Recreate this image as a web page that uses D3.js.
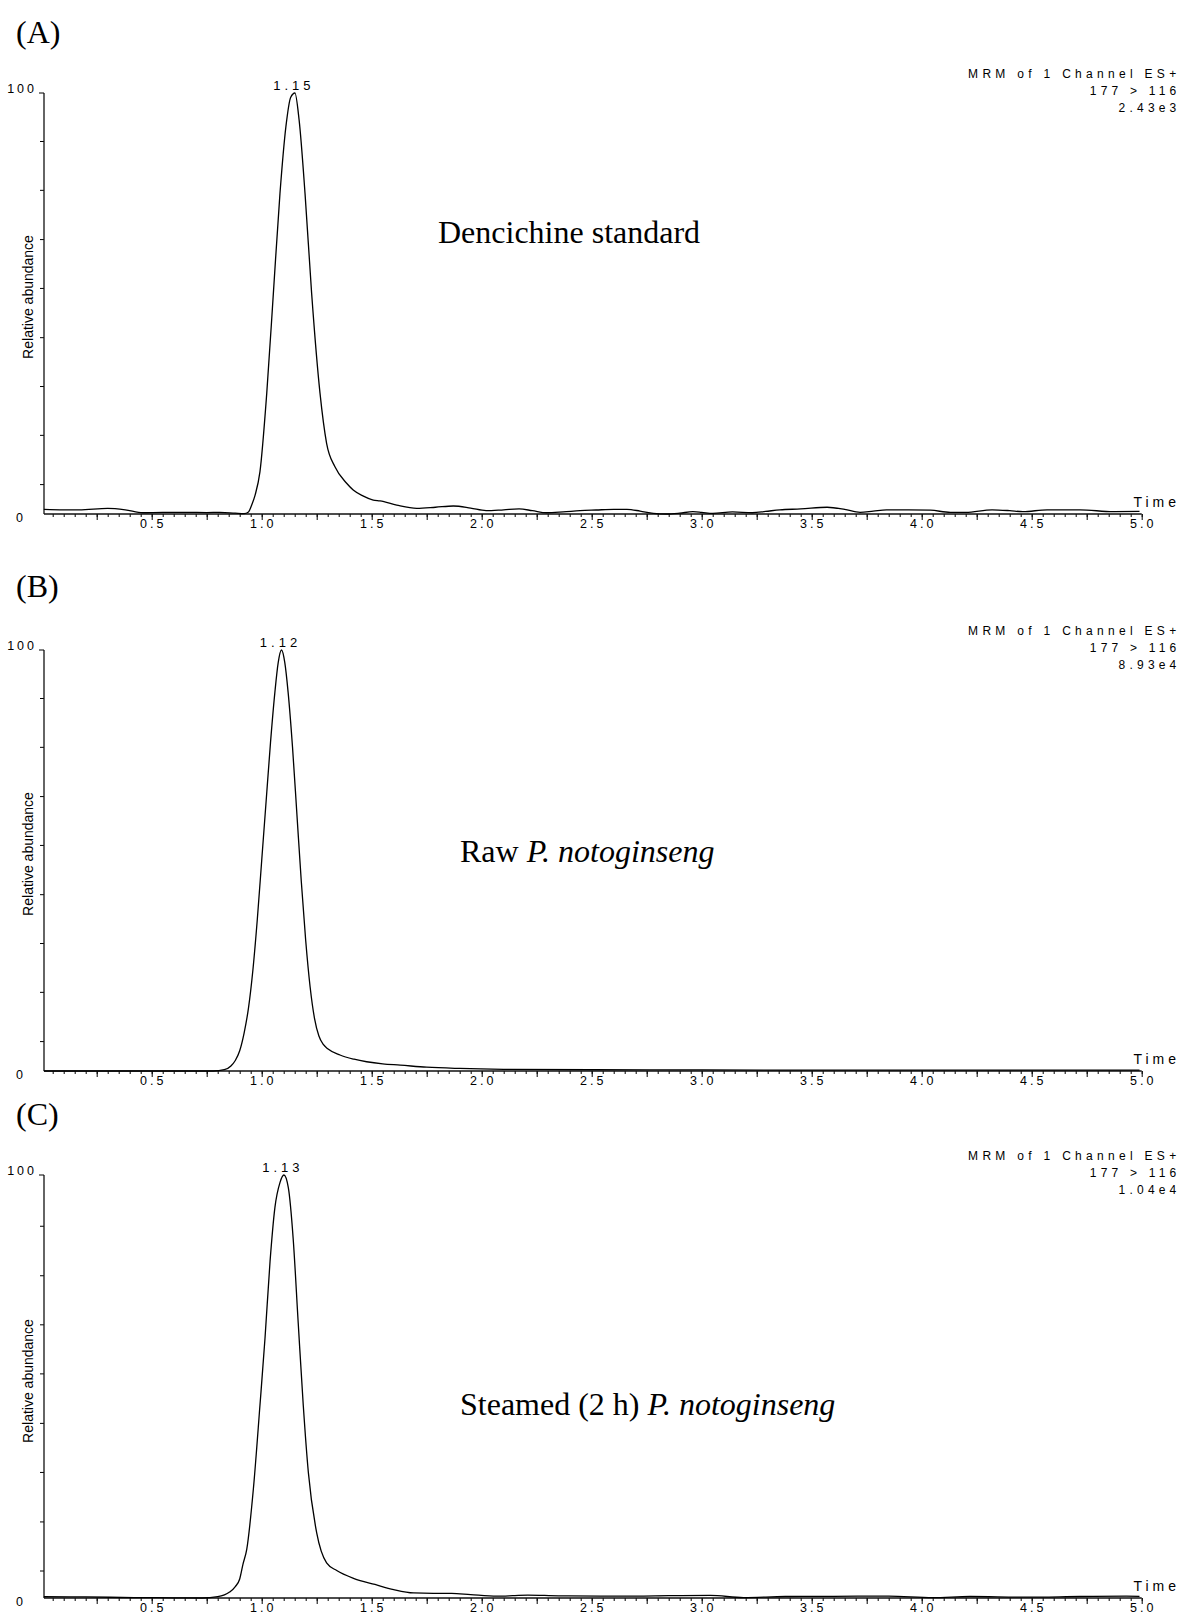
<!DOCTYPE html>
<html><head><meta charset="utf-8">
<script src="https://cdn.jsdelivr.net/npm/d3@7"></script>
<style>body{margin:0;background:#fff} svg{display:block}</style>
</head><body>
<svg id="chart" width="1180" height="1614"></svg>
<script>
// ---------- data ----------
const panelLetters = ["(A)", "(B)", "(C)"];
const peakLabels = ["1.15", "1.12", "1.13"];
const peakTimes = [1.151, 1.09, 1.101];
const intensityLabels = ["2.43e3", "8.93e4", "1.04e4"];
const headerLine1 = "MRM of 1 Channel ES+";
const headerLine2 = "177 > 116";
const xTickLabels = ["0.5","1.0","1.5","2.0","2.5","3.0","3.5","4.0","4.5","5.0"];
const xTickValues = [0.5,1.0,1.5,2.0,2.5,3.0,3.5,4.0,4.5,5.0];
const yTopLabel = "100";
const yZeroLabel = "0";
const yTitle = "Relative abundance";
const xTitle = "Time";
const yTicksA = [7.1, 18.8, 30.4, 42.0, 53.7, 65.3, 77.0, 88.6];
const yTicksB = [7.1, 18.8, 30.4, 42.0, 53.7, 65.3, 77.0, 88.6];
const yTicksC = [6.5, 18.1, 29.8, 41.4, 53.1, 64.7, 76.3, 88.0];

const timeA = [0.01,0.10,0.17,0.30,0.38,0.46,0.55,0.66,0.75,0.81,0.88,0.92,0.94,0.955,0.97,0.992,1.023,1.053,1.083,1.11,1.132,1.151,1.17,1.197,1.227,1.265,1.295,1.333,1.386,1.416,1.46,1.507,1.538,1.614,1.705,1.79,1.871,1.95,2.02,2.10,2.17,2.23,2.295,2.37,2.447,2.52,2.60,2.66,2.72,2.78,2.84,2.90,2.96,3.00,3.05,3.14,3.23,3.29,3.355,3.45,3.57,3.65,3.72,3.78,3.84,3.94,4.04,4.13,4.20,4.32,4.40,4.46,4.57,4.72,4.87,4.99];
const abundA = [1.1,1.0,1.0,1.35,1.0,0.3,0.4,0.4,0.35,0.4,0.2,0.1,0.5,2.2,4.5,10,28.7,52.4,76.1,92,99,100,93.6,76.1,52.4,28.7,16.8,11.2,7.3,5.7,4.3,3.3,3.1,2.1,1.35,1.6,1.9,1.4,0.8,1.0,1.2,0.8,0.3,0.5,0.8,0.95,1.1,1.1,0.7,0.15,0.0,0.2,0.55,0.4,0.15,0.5,0.3,0.6,1.0,1.2,1.6,1.1,0.4,0.7,1.0,1.0,0.9,0.4,0.4,1.0,0.8,0.55,1.0,1.0,0.55,0.6];

const timeB = [0.01,0.40,0.78,0.83,0.86,0.88,0.90,0.92,0.94,0.96,0.98,1.00,1.02,1.04,1.06,1.075,1.09,1.105,1.12,1.14,1.16,1.18,1.20,1.22,1.24,1.26,1.28,1.30,1.356,1.42,1.477,1.55,1.63,1.75,1.90,2.10,2.50,3.00,4.00,4.99];
const abundB = [0,0,0,0.3,1.2,2.5,4.8,9,15,24,36,50,64,78,90,97,100,97,90,77,61,45,31,20,12.5,8.3,6.3,5.3,3.8,2.8,2.2,1.7,1.4,0.9,0.6,0.4,0.3,0.25,0.2,0.2];

const timeC = [0.01,0.20,0.42,0.60,0.73,0.80,0.854,0.88,0.90,0.915,0.932,0.962,0.992,1.015,1.038,1.06,1.083,1.101,1.121,1.143,1.166,1.189,1.212,1.25,1.295,1.341,1.42,1.515,1.60,1.69,1.78,1.863,1.95,2.07,2.14,2.21,2.35,2.54,2.70,2.85,3.04,3.19,3.38,3.60,3.85,4.05,4.22,4.47,4.72,4.93,4.99];
const abundC = [0.3,0.25,0.1,0.05,0.0,0.3,1.4,2.7,4.5,8,11.5,25.7,45.5,61.4,79.6,92.3,98.2,100,97,85,65,45.5,29.7,15.4,8.3,6.5,4.6,3.2,2.0,1.2,1.1,1.1,0.8,0.45,0.55,0.7,0.5,0.45,0.45,0.55,0.6,0.1,0.35,0.4,0.45,0.1,0.35,0.2,0.35,0.45,0.4];

const descA = [{t:"Dencichine standard", i:false}];
const descB = [{t:"Raw ", i:false},{t:"P. notoginseng", i:true}];
const descC = [{t:"Steamed (2 h) ", i:false},{t:"P. notoginseng", i:true}];

// ---------- layout ----------
const panels = [
  {letter:panelLetters[0], peak:peakLabels[0], peakT:peakTimes[0], inten:intensityLabels[0], time:timeA, ab:abundA, ticks:yTicksA, desc:descA,
   top:93, base:514, letterY:43, descX:438, descY:243},
  {letter:panelLetters[1], peak:peakLabels[1], peakT:peakTimes[1], inten:intensityLabels[1], time:timeB, ab:abundB, ticks:yTicksB, desc:descB,
   top:650, base:1071, letterY:597, descX:460, descY:862},
  {letter:panelLetters[2], peak:peakLabels[2], peakT:peakTimes[2], inten:intensityLabels[2], time:timeC, ab:abundC, ticks:yTicksC, desc:descC,
   top:1175, base:1598, letterY:1125, descX:460, descY:1415}
];

const svg = d3.select("#chart");
const SANS = "'Liberation Sans', Arial, sans-serif";
const SERIF = "'Liberation Serif', 'Times New Roman', serif";
const x = d3.scaleLinear().domain([0, 5]).range([41.7, 1141.7]);
const minorVals = d3.range(1, 101).map(i => +(i * 0.05).toFixed(2));
const majorVals = d3.range(1, 21).map(i => i * 0.25);

panels.forEach(p => {
  const y = d3.scaleLinear().domain([0, 100]).range([p.base, p.top]);
  const g = svg.append("g");

  g.append("text").attr("x", 16).attr("y", p.letterY)
    .attr("font-family", SERIF).attr("font-size", 32).text(p.letter);

  const gx1 = g.append("g").attr("transform", `translate(0,${p.base})`)
    .call(d3.axisBottom(x).tickValues(minorVals).tickSize(3).tickFormat(""));
  const gx2 = g.append("g").attr("transform", `translate(0,${p.base})`)
    .call(d3.axisBottom(x).tickValues(majorVals).tickSize(6).tickFormat(""));
  [gx1, gx2].forEach(s => { s.select(".domain").remove(); s.selectAll("line").attr("stroke", "#000").attr("stroke-width", 1); });
  g.append("line").attr("x1", 44).attr("x2", x(5)).attr("y1", p.base).attr("y2", p.base)
    .attr("stroke", "#111").attr("stroke-width", 1.3);
  g.selectAll(".xl").data(xTickValues).enter().append("text")
    .attr("x", (d) => x(d) + 1.5).attr("y", p.base + 14)
    .attr("text-anchor", "middle").attr("font-family", SANS).attr("font-size", 12.5)
    .attr("letter-spacing", 3)
    .text((d, i) => xTickLabels[i]);

  const gy = g.append("g").attr("transform", "translate(44,0)")
    .call(d3.axisLeft(y).tickValues(p.ticks).tickSize(4).tickFormat(""));
  gy.select(".domain").remove();
  gy.selectAll("line").attr("stroke", "#000").attr("stroke-width", 1);
  g.append("line").attr("x1", 44).attr("x2", 44).attr("y1", y(100)).attr("y2", p.base)
    .attr("stroke", "#111").attr("stroke-width", 1.3);
  g.append("line").attr("x1", 39).attr("x2", 44).attr("y1", y(100)).attr("y2", y(100))
    .attr("stroke", "#000").attr("stroke-width", 1);
  g.append("text").attr("x", 37).attr("y", y(100)).attr("text-anchor", "end")
    .attr("font-family", SANS).attr("font-size", 12.5).attr("letter-spacing", 3).text(yTopLabel);
  g.append("text").attr("x", 19.5).attr("y", p.base + 8).attr("text-anchor", "middle")
    .attr("font-family", SANS).attr("font-size", 12.5).text(yZeroLabel);

  g.append("text").attr("transform", `translate(33,${p.base - 217}) rotate(-90)`)
    .attr("text-anchor", "middle").attr("font-family", SANS).attr("font-size", 14).text(yTitle);

  g.append("text").attr("x", 1180).attr("y", p.base - 7).attr("text-anchor", "end")
    .attr("font-family", SANS).attr("font-size", 14).attr("letter-spacing", 4).text(xTitle);

  [headerLine1, headerLine2, p.inten].forEach((t, i) => {
    g.append("text").attr("x", 1180.5).attr("y", y(100) - 15 + i * 17)
      .attr("text-anchor", "end").attr("font-family", SANS).attr("font-size", 12)
      .attr("letter-spacing", i === 0 ? 4.3 : 4.2).text(t);
  });

  const pts = p.time.map((t, i) => [t, p.ab[i]]);
  g.append("path").datum(pts)
    .attr("d", d3.line().x(d => x(d[0])).y(d => y(d[1])).curve(d3.curveMonotoneX))
    .attr("fill", "none").attr("stroke", "#000").attr("stroke-width", 1.3);

  g.append("text").attr("x", x(p.peakT) - 1).attr("y", y(100) - 3)
    .attr("text-anchor", "middle").attr("font-family", SANS).attr("font-size", 13)
    .attr("letter-spacing", 4).text(p.peak);

  const dt = g.append("text").attr("x", p.descX).attr("y", p.descY)
    .attr("font-family", SERIF).attr("font-size", 32);
  p.desc.forEach(s => dt.append("tspan").attr("font-style", s.i ? "italic" : "normal").text(s.t));
});
</script>
</body></html>
